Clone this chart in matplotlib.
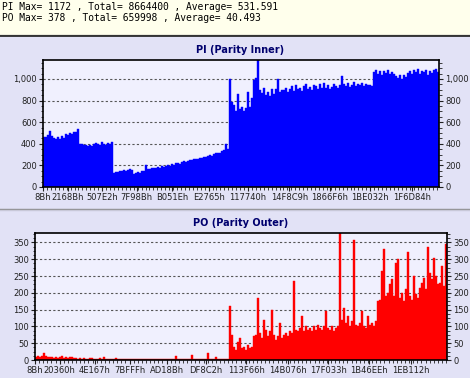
import numpy as np
import matplotlib.pyplot as plt
from matplotlib.ticker import MultipleLocator, FuncFormatter
from matplotlib.lines import Line2D
from matplotlib.patches import Rectangle

# summary lines shown above the charts
header_lines = [
    "PI Max= 1172 , Total= 8664400 , Average= 531.591",
    "PO Max= 378 , Total= 659998 , Average= 40.493",
]

# x tick labels (sector addresses in hex)
pi_ticks = ["8Bh", "2168Bh", "507E2h", "7F98Bh", "B051Eh", "E2765h",
            "117740h", "14F8C9h", "1866F6h", "1BE032h", "1F6D84h"]
po_ticks = ["8Bh", "20360h", "4E167h", "7BFFFh", "AD18Bh", "DF8C2h",
            "113F66h", "14B076h", "17F033h", "1B46EEh", "1EB112h"]

# PI errors per sample
pi_values = [
    460, 465, 478, 520, 470, 455, 445, 462, 440, 470, 455, 490, 480, 495, 488, 505, 512, 538,
    402, 395, 385, 392, 375, 390, 378, 400, 410, 395, 385, 415, 400, 392, 405, 398, 420,
    128, 140, 135, 150, 145, 155, 148, 160, 165, 158,
    118, 125, 135, 130, 145, 150, 200, 165, 170,
    172, 178, 175, 185, 180, 192, 188, 195, 200, 198, 210, 205, 218, 225, 215, 230, 238, 228,
    245, 250, 248, 258, 262, 255, 270, 268, 280, 275, 290, 300, 288, 305, 312, 318, 310, 330,
    338, 400, 350,
    1000, 790, 760, 700, 860, 720, 740, 700, 730, 880, 740, 820, 990, 1010,
    1172,
    900, 870, 920, 850, 880, 840, 905, 860, 910, 1000, 880, 895, 900, 920, 880, 910, 930, 890,
    940, 905, 920, 890, 935, 950, 910, 925, 900, 945, 930, 910, 950, 920, 960, 915, 940, 905,
    925, 950, 930, 915, 945, 1030, 950, 935, 960, 925, 945, 970, 930, 950, 940, 965, 930, 955,
    940, 945, 935,
    1060, 1085, 1050, 1075, 1040, 1070, 1055, 1080, 1045, 1065, 1050, 1030, 1010, 1035, 1000,
    1040, 1020, 1055, 1070, 1045, 1080, 1060, 1090, 1050, 1075, 1065, 1085, 1040, 1070, 1055,
    1080, 1095, 1060,
]

# PO errors per sample
po_values = [
    10, 12, 8, 11, 20, 12, 9, 8, 10, 7, 9, 6, 8, 12, 7, 9, 6, 8, 10, 5,
    5, 4, 6, 3, 5, 4, 3, 5, 6, 4, 3, 4, 5, 3, 8, 4, 3, 2, 4, 3,
    5, 2, 3, 4, 2, 3, 2, 4, 3, 2, 3, 2, 4, 2, 3, 2, 2, 3, 2, 4,
    2, 3, 2, 2, 3, 2, 4, 2, 3, 2, 11, 2, 3, 2, 2, 3, 2, 2, 15, 2,
    3, 2, 2, 3, 2, 2, 20, 3, 2, 2, 10, 2, 3, 2, 2, 3, 2,
    160,
    75, 40, 30, 55, 65, 35, 40, 30, 45, 35, 40,
    70, 75, 185, 80, 65, 120, 90, 70, 85, 150, 75, 60, 70, 110, 65, 75, 80, 70, 85,
    80, 235, 90, 85, 95, 130, 85, 100, 90, 95, 85, 100, 90, 105, 95, 88, 100, 145, 95, 90,
    100, 85, 95,
    100, 378,
    120, 155, 110, 130, 100, 115,
    358,
    105, 100, 110, 145, 100, 95, 130, 105, 110, 100, 115,
    175, 180, 265, 330, 190, 200, 225, 240, 190, 290, 300, 185, 200, 175, 210, 320, 190, 180,
    250, 195, 185,
    215, 230, 245, 210, 335, 260, 240, 305, 250, 225, 230, 280, 220, 345,
]

W, H = 470, 378
panel_bg = "#e2e2f6"
plot_bg = "#f0f0fe"
header_bg = "#ffffec"
title_col = "#00006e"
txt_col = "#202020"

fig = plt.figure(figsize=(W / 100, H / 100), dpi=100)
fig.patch.set_facecolor(panel_bg)

# header band
fig.patches.append(Rectangle((0, 1 - 34.5 / H), 1, 34.5 / H, transform=fig.transFigure,
                             facecolor=header_bg, edgecolor="none", zorder=0))
for y, c, lw in [(34.8, "#9a9a9a", 1.0), (36.2, "#202020", 1.2),
                 (208.8, "#8a8a8a", 1.0), (210.4, "#c8c8d8", 1.0)]:
    fig.lines.append(Line2D([0, 1], [1 - y / H] * 2, transform=fig.transFigure,
                            color=c, linewidth=lw))

for i, line in enumerate(header_lines):
    fig.text(2 / W, 1 - (6.5 + 11.5 * i) / H, line, family="DejaVu Sans Mono",
             fontsize=6.9, color="#000000", va="center", ha="left")


def px_axes(x0, y0, x1, y1):
    return fig.add_axes([x0 / W, 1 - y1 / H, (x1 - x0) / W, (y1 - y0) / H])


def draw_panel(ax, values, ticks, color, xlim, ymax, ystep, yminor):
    n = len(values)
    edges = np.linspace(xlim[0], xlim[1], n + 1)
    ax.bar(edges[:-1], values, width=np.diff(edges), align="edge",
           color=color, edgecolor=color, linewidth=0.3, zorder=2)
    ax.set_facecolor(plot_bg)
    ax.set_xlim(*xlim)
    ax.set_ylim(0, ymax)
    ax.set_xticks([int(t[:-1], 16) for t in ticks])
    ax.set_xticklabels(ticks)
    ax.xaxis.set_minor_locator(MultipleLocator(22000))
    ax.yaxis.set_major_locator(MultipleLocator(ystep))
    ax.yaxis.set_minor_locator(MultipleLocator(yminor))
    ax.yaxis.set_major_formatter(FuncFormatter(lambda v, p: f"{int(v):,}"))
    ax.grid(axis="y", which="major", color="#555555", linestyle=(0, (2, 2)),
            linewidth=0.8, zorder=1)
    ax.set_axisbelow(True)
    ax.tick_params(axis="both", which="major", labelsize=6.0, colors=txt_col,
                   length=3, width=0.8, pad=1.5)
    ax.tick_params(axis="y", which="both", right=True, labelright=True)
    ax.tick_params(axis="both", which="minor", length=1.8, width=0.6, colors=txt_col)
    for s in ax.spines.values():
        s.set_color("black")
        s.set_linewidth(1.2)


ax1 = px_axes(43, 60, 439, 187)
draw_panel(ax1, pi_values, pi_ticks, "#0000ff", (0, 2.2098e6), 1175, 200, 50)
fig.text(240 / W, 1 - 50 / H, "PI (Parity Inner)", fontsize=7.0, fontweight="bold",
         color=title_col, ha="center", va="center")

ax2 = px_axes(35, 233, 447, 360)
draw_panel(ax2, po_values, po_ticks, "#ff0000", (0, 2.2046e6), 378, 50, 12.5)
fig.text(241 / W, 1 - 223 / H, "PO (Parity Outer)", fontsize=7.0, fontweight="bold",
         color=title_col, ha="center", va="center")

fig.savefig("out.png", dpi=100, facecolor=fig.get_facecolor())
